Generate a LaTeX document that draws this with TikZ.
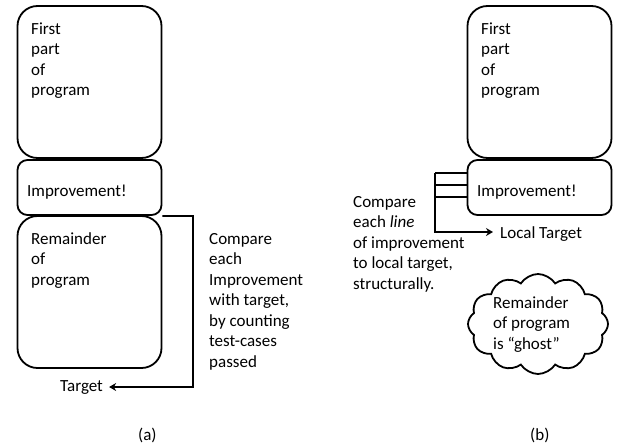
\documentclass[tikz,border=0pt]{standalone}
\usepackage{fontspec}
\setmainfont{Carlito}
\usetikzlibrary{arrows.meta,shapes.symbols}
\begin{document}
\begin{tikzpicture}[x=1pt,y=-1pt,
  progbox/.style={draw=black,line width=1.8pt,rounded corners=20pt,minimum width=144pt,inner sep=0pt},
  impbox/.style={draw=black,line width=1.8pt,rounded corners=10pt,minimum width=144pt,minimum height=55pt,inner sep=0pt},
  txt/.style={anchor=base west,align=left,inner sep=0pt,font=\fontsize{17}{20.5}\selectfont},
  conn/.style={draw=black,line width=1.8pt},
  arr/.style={conn,-{Stealth[length=7pt,width=8pt]}},
  cloudshape/.style={cloud,draw=black,line width=1.8pt,cloud puffs=12,cloud puff arc=115,cloud ignores aspect,minimum width=140pt,minimum height=100pt,inner sep=0pt}
]
\useasboundingbox (0,0) rectangle (618,447);
% ---------- (a) ----------
\node[progbox,minimum height=152pt] (a1) at (89.5,82) {};
\node[impbox] (a2) at (89.5,187.5) {};
\node[progbox,minimum height=152pt] (a3) at (89.5,292) {};
% base anchor of a multi-line node = baseline of its last line
\node[txt] (a1t) at (31,95.5) {First\\part\\of\\program};
\node[txt] (a2t) at (27,196) {Improvement!};
\node[txt] (a3t) at (31,285) {Remainder\\of\\program};
\node[txt] (acmp) at (209,367) {Compare\\each\\Improvement\\with target,\\by counting\\test-cases\\passed};
\node[txt] (tgt) at (60,391) {Target};
\coordinate (abend) at (193,216);
\draw[arr] (a2.south east) -- (abend) |- ([xshift=6pt]tgt.east);
\node[txt] (alab) at (138,440) {(a)};
% ---------- (b) ----------
\node[progbox,minimum height=152pt] (b1) at (539.5,82) {};
\node[impbox] (b2) at (539.5,187.5) {};
\node[txt] (b1t) at (481,95.5) {First\\part\\of\\program};
\node[txt] (b2t) at (477,196) {Improvement!};
\coordinate (l1) at (435,173);
\coordinate (l2) at (435,185);
\coordinate (l3) at (435,197);
\draw[conn] (l1) -- (l1 -| b2.west);
\draw[conn] (l2) -- (l2 -| b2.west);
\draw[conn] (l3) -- (l3 -| b2.west);
\node[txt] (lt) at (500,238) {Local Target};
\draw[arr] (l1) |- ([xshift=-7pt]lt.west |- 0,232);
\node[txt] (bcmp) at (353,289) {Compare\\each \textit{line}\\of improvement\\to local target,\\structurally.};
\node[cloudshape] (ghost) at (538,324) {};
\node[txt] (gt) at (493,349) {Remainder\\of program\\is “ghost”};
\node[txt] (blab) at (530,440) {(b)};
\end{tikzpicture}
\end{document}
